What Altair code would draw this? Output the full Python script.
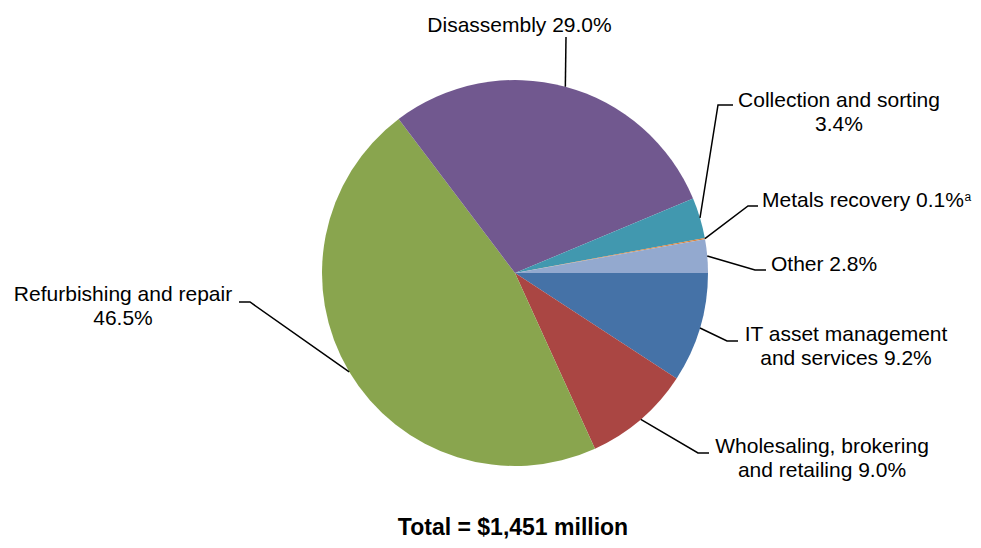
import math
import pandas as pd
import altair as alt

# ---------------- data ----------------
categories = [
    "IT asset management and services",
    "Wholesaling, brokering and retailing",
    "Refurbishing and repair",
    "Disassembly",
    "Collection and sorting",
    "Metals recovery",
    "Other",
]
shares = [9.2, 9.0, 46.5, 29.0, 3.4, 0.1, 2.8]
label_lines = [
    ["IT asset management", "and services 9.2%"],
    ["Wholesaling, brokering", "and retailing 9.0%"],
    ["Refurbishing and repair", "46.5%"],
    ["Disassembly 29.0%"],
    ["Collection and sorting", "3.4%"],
    ["Metals recovery 0.1%"],
    ["Other 2.8%"],
]
footnote_marks = ["", "", "", "", "", "a", ""]
total_label = "Total = $1,451 million"

# ---------------- style ----------------
colors = ["#4572A7", "#AA4643", "#89A54E", "#71588F", "#4198AF", "#DB843D", "#93A9CF"]
FONT = "Liberation Sans"
LABEL_SIZE = 21
LINE_H = 24

# ---------------- layout (page pixels) ----------------
PAGE = 8
W, H = 965, 532
CX, CY, R = 515 - PAGE, 273 - PAGE, 193
elbow_pts = [(727, 341), (698, 453), (250, 302), (566, 37), (718, 105), (748, 206), (755, 270)]
end_pts = [(738, 341), (709, 453), (239, 302), (566, 37), (733, 105), (758, 206), (766, 270)]
text_anchor = [
    (846, 340.7, "center"),
    (822, 452.7, "center"),
    (123, 300.7, "center"),
    (519.5, 32.3, "center"),
    (839, 106.7, "center"),
    (762, 206.7, "left"),
    (771, 270.7, "left"),
]
footnote_pos = (964.5, 200.5)
title_pos = (513, 535)

# ---------------- tables ----------------
total = sum(shares)
pie_rows, lead_rows, text_rows = [], [], []
cum = 0.0
for i, (c, s) in enumerate(zip(categories, shares)):
    mid = (cum + s / 2) / total * 2 * math.pi  # clockwise from 3 o'clock
    cum += s
    pie_rows.append({"cat": c, "share": s, "idx": i})
    sx, sy = CX + R * math.cos(mid), CY + R * math.sin(mid)
    pts = [(sx, sy), (elbow_pts[i][0] - PAGE, elbow_pts[i][1] - PAGE),
           (end_pts[i][0] - PAGE, end_pts[i][1] - PAGE)]
    for k, (px, py) in enumerate(pts):
        lead_rows.append({"cat": c, "step": k, "x": px, "y": py})
    ax, ay, al = text_anchor[i]
    for j, line in enumerate(label_lines[i]):
        text_rows.append({"cat": c, "x": ax - PAGE, "y": ay - PAGE + j * LINE_H,
                          "text": line, "align": al})
    if footnote_marks[i]:
        text_rows.append({"cat": c, "x": footnote_pos[0] - PAGE, "y": footnote_pos[1] - PAGE,
                          "text": footnote_marks[i], "align": "sup"})

text_rows.append({"cat": "total", "x": title_pos[0] - PAGE, "y": title_pos[1] - PAGE,
                  "text": total_label, "align": "title"})

pie_df = pd.DataFrame(pie_rows)
lead_df = pd.DataFrame(lead_rows)
text_df = pd.DataFrame(text_rows)

xs = alt.Scale(domain=[0, W], range=[0, W], nice=False, zero=False)
ys = alt.Scale(domain=[0, H], range=[0, H], nice=False, zero=False)
X = alt.X("x:Q", scale=xs, axis=None)
Y = alt.Y("y:Q", scale=ys, axis=None)

pie = alt.Chart(pie_df).mark_arc(outerRadius=R).encode(
    theta=alt.Theta("share:Q", stack=True,
                    scale=alt.Scale(range=[math.pi / 2, math.pi / 2 + 2 * math.pi])),
    order=alt.Order("idx:Q"),
    color=alt.Color("cat:N", scale=alt.Scale(domain=categories, range=colors), legend=None),
    x=alt.value(CX),
    y=alt.value(CY),
)

leaders = alt.Chart(lead_df).mark_line(color="black", strokeWidth=1.5).encode(
    x=X, y=Y, detail="cat:N", order="step:Q"
)

base_t = alt.Chart(text_df)
t_center = base_t.transform_filter(alt.datum.align == "center").mark_text(
    align="center", baseline="alphabetic", font=FONT, fontSize=LABEL_SIZE, color="black"
).encode(x=X, y=Y, text="text:N")
t_left = base_t.transform_filter(alt.datum.align == "left").mark_text(
    align="left", baseline="alphabetic", font=FONT, fontSize=LABEL_SIZE, color="black"
).encode(x=X, y=Y, text="text:N")
t_sup = base_t.transform_filter(alt.datum.align == "sup").mark_text(
    align="left", baseline="alphabetic", font=FONT, fontSize=12, color="black"
).encode(x=X, y=Y, text="text:N")
t_title = base_t.transform_filter(alt.datum.align == "title").mark_text(
    align="center", baseline="alphabetic", font=FONT, fontSize=23, fontWeight="bold", color="black"
).encode(x=X, y=Y, text="text:N")

chart = alt.layer(pie, leaders, t_center, t_left, t_sup, t_title).properties(
    width=W, height=H, padding=0, autosize=alt.AutoSizeParams(type="none"),
    background="white",
).configure_view(stroke=None)

chart.save("out.html", embed_options={"renderer": "svg", "actions": False})
